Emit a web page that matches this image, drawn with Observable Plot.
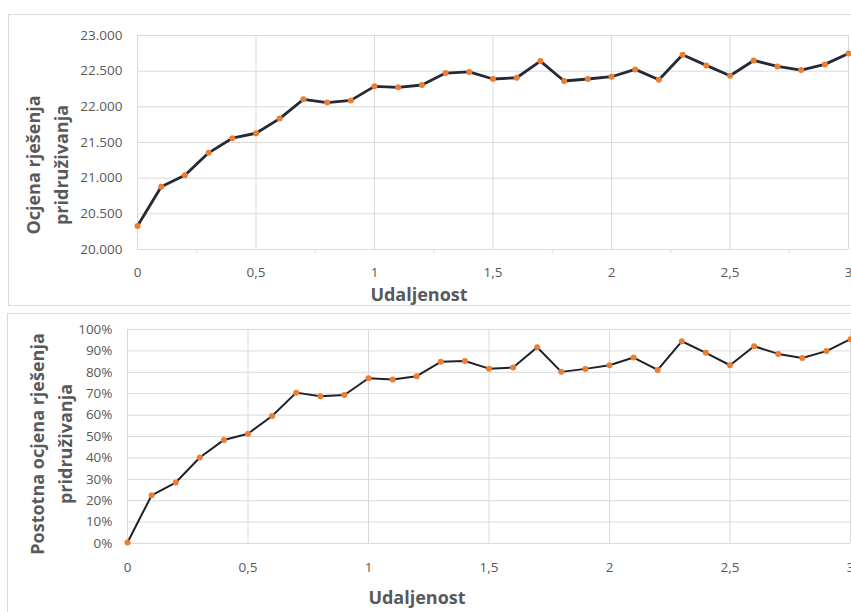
<!DOCTYPE html>
<html><head><meta charset="utf-8">
<script src="https://cdn.jsdelivr.net/npm/d3@7"></script>
<script src="https://cdn.jsdelivr.net/npm/@observablehq/plot@0.6"></script>
<style>
html,body{margin:0;padding:0;background:#fff;width:851px;height:612px;overflow:hidden;font-family:"Open Sans",sans-serif;}
.frame{position:absolute;border:1.5px solid #dadada;box-sizing:border-box;}
.chart{position:absolute;left:0;}
.title{position:absolute;font-weight:bold;font-size:18px;line-height:20px;height:20px;color:#595959;white-space:nowrap;text-align:center;}
.ytitle{position:absolute;font-weight:bold;font-size:18px;color:#595959;white-space:nowrap;text-align:center;line-height:28px;width:300px;height:56px;transform:rotate(-90deg);}
</style></head><body>
<div class="frame" style="left:8px;top:14px;width:900px;height:292px"></div>
<div class="frame" style="left:7px;top:313px;width:900px;height:330px"></div>
<div id="topChart" class="chart" style="top:0"></div>
<div id="bottomChart" class="chart" style="top:310px"></div>
<div class="ytitle" style="left:-103px;top:137px">Ocjena rješenja<br>pridruživanja</div>
<div class="title" style="left:319px;width:200px;top:284px">Udaljenost</div>
<div class="ytitle" style="left:-99px;top:416px">Postotna ocjena rješenja<br>pridruživanja</div>
<div class="title" style="left:317px;width:200px;top:587px">Udaljenost</div>
<script>
// Data
const distance = [0,0.1,0.2,0.3,0.4,0.5,0.6,0.7,0.8,0.9,1.0,1.1,1.2,1.3,1.4,1.5,1.6,1.7,1.8,1.9,2.0,2.1,2.2,2.3,2.4,2.5,2.6,2.7,2.8,2.9,3.0];
const score = [20330,20880,21040,21355,21560,21630,21835,22105,22060,22090,22287,22273,22306,22473,22490,22390,22408,22641,22362,22390,22422,22525,22380,22730,22581,22436,22650,22567,22515,22595,22748];
const percent = [0.5,22.5,28.5,40.2,48.4,51.3,59.6,70.5,68.8,69.4,77.2,76.6,78.2,84.9,85.3,81.7,82.2,91.7,80.2,81.6,83.3,86.9,81.1,94.5,89.1,83.3,92.2,88.6,86.7,89.9,95.5];
const xTicks = [0,0.5,1,1.5,2,2.5,3];
const xMinorTicks = [0.25,0.75,1.25,1.75,2.25,2.75];
const yTicksScore = [20000,20500,21000,21500,22000,22500,23000];
const yTicksPercent = [0,10,20,30,40,50,60,70,80,90,100];

const hr = d3.formatLocale({decimal:",", thousands:".", grouping:[3], currency:["",""]});
const fmtScore = hr.format(",");
const fmtX = d => String(d).replace(".", ",");
const fmtPct = d => d + "%";

const data1 = distance.map((d,i)=>({x:d, y:score[i]}));
const data2 = distance.map((d,i)=>({x:d, y:percent[i]}));
const grid = "#d9d9d9";
const chartStyle = {fontFamily:"'Open Sans', sans-serif", fontSize:"13.5px", color:"#595959", background:"transparent", overflow:"visible"};

const chart1 = Plot.plot({
  width:851, height:310, marginLeft:137, marginRight:3, marginTop:35, marginBottom:61,
  style: chartStyle,
  x:{domain:[0,3]}, y:{domain:[20000,23000]},
  marks:[
    Plot.gridX(xTicks, {stroke:grid, strokeOpacity:1}),
    Plot.gridY(yTicksScore, {stroke:grid, strokeOpacity:1}),
    Plot.axisX(xMinorTicks, {tickSize:4, stroke:grid, strokeOpacity:1, tickFormat:()=>"", label:null}),
    Plot.axisX(xTicks, {tickSize:0, tickPadding:18, tickFormat:fmtX, label:null}),
    Plot.axisY(yTicksScore, {tickSize:0, tickPadding:15, tickFormat:fmtScore, label:null}),
    Plot.line(data1, {x:"x", y:"y", stroke:"#232a35", strokeWidth:2.8}),
    Plot.dot(data1, {x:"x", y:"y", r:3, fill:"#ed7d31"})
  ]
});
document.getElementById("topChart").append(chart1);

const chart2 = Plot.plot({
  width:851, height:302, marginLeft:127, marginRight:1, marginTop:19, marginBottom:69,
  style: chartStyle,
  x:{domain:[0,3]}, y:{domain:[0,100]},
  marks:[
    Plot.gridX(xTicks, {stroke:grid, strokeOpacity:1}),
    Plot.gridY(yTicksPercent, {stroke:grid, strokeOpacity:1}),
    Plot.axisX(xTicks, {tickSize:0, tickPadding:19, tickFormat:fmtX, label:null}),
    Plot.axisY(yTicksPercent, {tickSize:0, tickPadding:15, tickFormat:fmtPct, label:null}),
    Plot.line(data2, {x:"x", y:"y", stroke:"#1e2128", strokeWidth:2}),
    Plot.dot(data2, {x:"x", y:"y", r:3, fill:"#ed7d31"})
  ]
});
document.getElementById("bottomChart").append(chart2);
</script>
</body></html>
